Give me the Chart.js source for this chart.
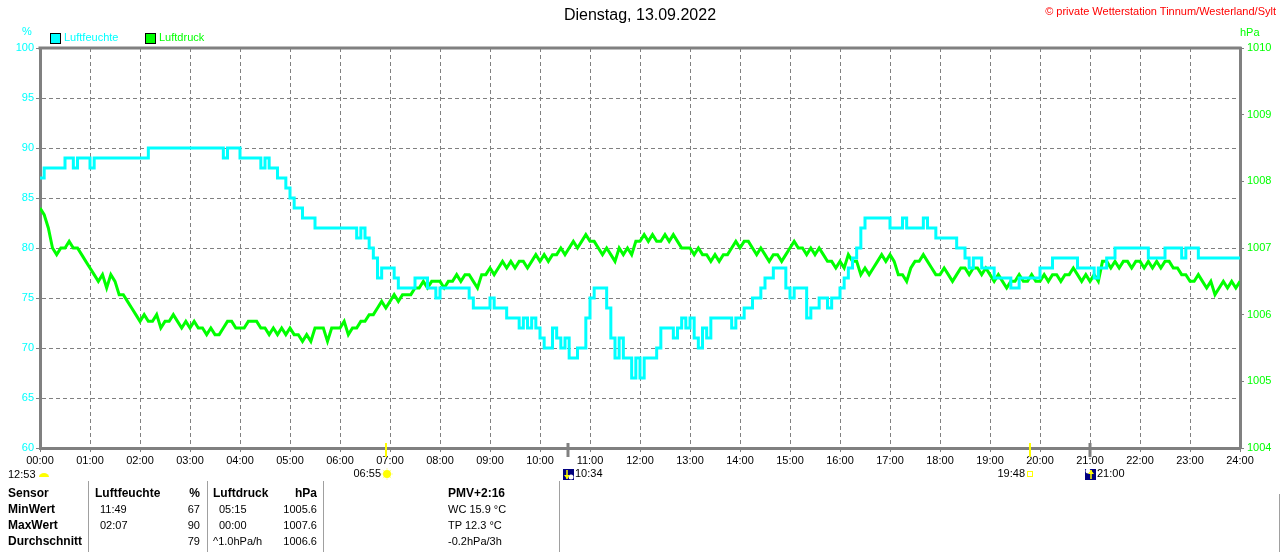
<!DOCTYPE html>
<html>
<head>
<meta charset="utf-8">
<script src="https://cdn.jsdelivr.net/npm/chart.js@4.4.0/dist/chart.umd.min.js"></script>
<style>
body { margin: 0; background: #fff; }
#wrap { position: relative; width: 1280px; height: 552px; overflow: hidden;
        font-family: "Liberation Sans", Arial, sans-serif; font-size: 11px; color: #000; }
#chart { position: absolute; left: 0; top: 0; }
.t { position: absolute; white-space: nowrap; line-height: 13px; }
.b { font-weight: bold; font-size: 12px; }
.r { text-align: right; }
.sep { position: absolute; width: 1px; background: #a0a0a0; }
.box { position: absolute; width: 9px; height: 9px; border: 1px solid #000; }
</style>
</head>
<body>
<div id="wrap">
  <canvas id="chart" width="1280" height="552"></canvas>
  <div class="t" style="right:4px; top:5px; color:#ff0000;">&copy; private Wetterstation Tinnum/Westerland/Sylt</div>
  <div class="t" style="left:22px; top:25px; color:#00ffff;">%</div>
  <div class="t" style="left:1240px; top:26px; color:#00ff00;">hPa</div>
  <div class="box" style="left:50px; top:33px; background:#00ffff;"></div>
  <div class="t" style="left:64px; top:31px; color:#00ffff;">Luftfeuchte</div>
  <div class="box" style="left:145px; top:33px; background:#00ff00;"></div>
  <div class="t" style="left:159px; top:31px; color:#00ff00;">Luftdruck</div>
  <div id="table"></div>
</div>
<script>
// 5-minute samples, 00:00 .. 24:00 (one row = one hour)
const sampleMinutes = 5;
const xTickLabels = ['00:00','01:00','02:00','03:00','04:00','05:00','06:00','07:00','08:00','09:00','10:00','11:00',
  '12:00','13:00','14:00','15:00','16:00','17:00','18:00','19:00','20:00','21:00','22:00','23:00','24:00'];

const humidity = [
  87,88,88,88,88,88,89,89,88,89,89,89,
  88,89,89,89,89,89,89,89,89,89,89,89,
  89,89,90,90,90,90,90,90,90,90,90,90,
  90,90,90,90,90,90,90,90,89,90,90,90,
  89,89,89,89,89,88,89,88,88,87,87,86,
  85,84,84,83,83,83,82,82,82,82,82,82,
  82,82,82,82,81,82,81,80,79,77,78,78,
  78,77,76,76,76,76,77,77,77,76,76,75,
  76,76,76,76,76,76,76,75,74,74,74,74,
  75,74,74,74,73,73,73,72,73,72,73,72,
  71,70,70,72,71,70,71,69,69,70,70,73,
  75,76,76,76,74,71,69,71,69,69,67,69,
  67,69,69,69,70,72,72,72,71,72,73,72,
  73,71,70,72,71,73,73,73,73,73,72,73,
  73,74,74,75,75,76,77,77,78,78,78,76,
  75,76,76,76,73,74,74,75,75,74,75,75,
  76,77,78,79,80,82,83,83,83,83,83,83,
  82,82,82,83,82,82,82,82,83,82,82,81,
  81,81,81,81,80,80,79,78,79,79,78,78,
  78,77,77,77,77,76,76,77,77,77,77,77,
  78,78,78,79,79,79,79,79,79,78,78,78,
  78,77,78,78,79,79,80,80,80,80,80,80,
  80,80,79,79,79,79,80,80,80,80,79,80,
  80,80,79,79,79,79,79,79,79,79,79,79,
  79
];

const pressure = [
  1007.6,1007.5,1007.3,1007.0,1006.9,1007.0,1007.0,1007.1,1007.0,1007.0,1006.9,1006.8,
  1006.7,1006.6,1006.5,1006.6,1006.4,1006.6,1006.5,1006.3,1006.3,1006.2,1006.1,1006.0,
  1005.9,1006.0,1005.9,1005.9,1006.0,1005.8,1005.9,1005.9,1006.0,1005.9,1005.8,1005.9,
  1005.8,1005.9,1005.8,1005.8,1005.7,1005.8,1005.7,1005.7,1005.8,1005.9,1005.9,1005.8,
  1005.8,1005.8,1005.9,1005.9,1005.9,1005.8,1005.8,1005.7,1005.8,1005.7,1005.8,1005.7,
  1005.8,1005.7,1005.7,1005.6,1005.7,1005.6,1005.8,1005.8,1005.8,1005.6,1005.8,1005.8,
  1005.8,1005.9,1005.7,1005.8,1005.8,1005.9,1005.9,1006.0,1006.0,1006.1,1006.2,1006.1,
  1006.2,1006.3,1006.2,1006.3,1006.3,1006.3,1006.4,1006.4,1006.5,1006.4,1006.5,1006.5,
  1006.5,1006.4,1006.5,1006.5,1006.6,1006.5,1006.6,1006.6,1006.5,1006.4,1006.6,1006.6,
  1006.7,1006.6,1006.7,1006.8,1006.7,1006.8,1006.7,1006.8,1006.8,1006.7,1006.8,1006.9,
  1006.8,1006.9,1006.8,1006.9,1006.9,1007.0,1006.9,1007.0,1007.1,1007.0,1007.1,1007.2,
  1007.1,1007.1,1007.0,1006.9,1007.0,1006.9,1006.8,1007.0,1006.9,1007.0,1006.9,1007.1,
  1007.1,1007.2,1007.1,1007.2,1007.1,1007.1,1007.2,1007.1,1007.2,1007.1,1007.0,1007.0,
  1007.0,1006.9,1007.0,1006.9,1006.9,1006.8,1006.9,1006.8,1006.9,1006.9,1007.0,1007.1,
  1007.0,1007.1,1007.1,1007.0,1006.9,1007.0,1006.9,1006.8,1006.9,1006.9,1006.8,1006.9,
  1007.0,1007.1,1007.0,1007.0,1006.9,1007.0,1006.9,1007.0,1006.9,1006.8,1006.8,1006.7,
  1006.8,1006.7,1006.9,1006.8,1006.8,1006.6,1006.7,1006.6,1006.7,1006.8,1006.9,1006.8,
  1006.9,1006.8,1006.6,1006.6,1006.5,1006.7,1006.8,1006.8,1006.9,1006.8,1006.7,1006.6,
  1006.6,1006.7,1006.6,1006.5,1006.6,1006.7,1006.7,1006.6,1006.7,1006.7,1006.6,1006.7,
  1006.6,1006.5,1006.6,1006.5,1006.4,1006.5,1006.5,1006.6,1006.5,1006.5,1006.6,1006.5,
  1006.5,1006.6,1006.5,1006.6,1006.6,1006.5,1006.6,1006.6,1006.7,1006.6,1006.5,1006.6,
  1006.5,1006.6,1006.5,1006.8,1006.8,1006.7,1006.8,1006.7,1006.8,1006.8,1006.7,1006.8,
  1006.8,1006.7,1006.8,1006.7,1006.8,1006.7,1006.8,1006.8,1006.7,1006.7,1006.6,1006.6,
  1006.5,1006.5,1006.6,1006.5,1006.4,1006.5,1006.3,1006.4,1006.5,1006.4,1006.5,1006.4,
  1006.5
];

// sun / moon events on the time axis (minutes after midnight)
const eventTimes  = [415, 634, 1188, 1260];
const eventLabels = ['06:55', '10:34', '19:48', '21:00'];
const eventKinds  = ['sunrise', 'moonset', 'sunset', 'moonrise'];
const dayLength = '12:53';

// summary table
const tableHead  = ['Sensor', 'Luftfeuchte', '%', 'Luftdruck', 'hPa', 'PMV+2:16'];
const rowNames   = ['MinWert', 'MaxWert', 'Durchschnitt'];
const humTimes   = ['11:49', '02:07', ''];
const humVals    = ['67', '90', '79'];
const presTimes  = ['05:15', '00:00', '^1.0hPa/h'];
const presVals   = ['1005.6', '1007.6', '1006.6'];
const extraInfo  = ['WC 15.9 °C', 'TP 12.3 °C', '-0.2hPa/3h'];

function toPoints(values) {
  return values.map(function(v, i) { return { x: i * sampleMinutes, y: v }; });
}

var frame = {
  id: 'frame',
  afterDraw: function(chart) {
    var ctx = chart.ctx, a = chart.chartArea;
    ctx.save();
    ctx.strokeStyle = '#808080';
    ctx.lineWidth = 3;
    ctx.beginPath();
    ctx.moveTo(a.left - 1.5, a.top);
    ctx.lineTo(a.right + 1.5, a.top);
    ctx.stroke();
    ctx.restore();
  }
};

function drawMoon(ctx, px, y, rising) {
  ctx.fillStyle = '#00007f';
  ctx.fillRect(px - 5, y - 5, 11, 11);
  ctx.fillStyle = '#ffffff';
  ctx.beginPath();
  if (rising) ctx.arc(px - 2, y - 3, 2.5, 0, Math.PI * 2);
  else ctx.arc(px + 3, y + 3, 2.5, 0, Math.PI * 2);
  ctx.fill();
  ctx.strokeStyle = '#ffff00';
  ctx.fillStyle = '#ffff00';
  ctx.lineWidth = 1.5;
  var ax = rising ? px + 1 : px - 1;
  ctx.beginPath();
  ctx.moveTo(ax, y - 4); ctx.lineTo(ax, y + 5);
  ctx.stroke();
  ctx.beginPath();
  if (rising) { ctx.moveTo(ax - 3, y); ctx.lineTo(ax, y - 4); ctx.lineTo(ax + 3, y); }
  else { ctx.moveTo(ax - 3, y + 1); ctx.lineTo(ax, y + 5); ctx.lineTo(ax + 3, y + 1); }
  ctx.closePath();
  ctx.fill();
}

var sunMoon = {
  id: 'sunMoon',
  afterDraw: function(chart) {
    var ctx = chart.ctx, xs = chart.scales.x, base = chart.chartArea.bottom;
    var ly = 474;
    ctx.save();
    ctx.font = '11px "Liberation Sans", Arial, sans-serif';
    ctx.textBaseline = 'middle';
    eventTimes.forEach(function(t, i) {
      var px = Math.round(xs.getPixelForValue(t));
      var kind = eventKinds[i];
      var moon = kind.indexOf('moon') === 0;
      ctx.strokeStyle = moon ? '#808080' : '#ffff00';
      ctx.lineWidth = moon ? 3 : 2;
      ctx.beginPath();
      ctx.moveTo(px, base - 5);
      ctx.lineTo(px, base + 9);
      ctx.stroke();
      ctx.fillStyle = '#000';
      if (moon) {
        drawMoon(ctx, px, ly, kind === 'moonrise');
        ctx.fillStyle = '#000';
        ctx.textAlign = 'left';
        ctx.fillText(eventLabels[i], px + 7, ly);
      } else {
        ctx.textAlign = 'right';
        ctx.fillText(eventLabels[i], px - 5, ly);
        if (kind === 'sunrise') {
          ctx.strokeStyle = '#ffff99';
          ctx.lineWidth = 1;
          for (var k = 0; k < 8; k++) {
            var an = k * Math.PI / 4;
            ctx.beginPath();
            ctx.moveTo(px + 1 + Math.cos(an) * 4, ly + Math.sin(an) * 4);
            ctx.lineTo(px + 1 + Math.cos(an) * 6, ly + Math.sin(an) * 6);
            ctx.stroke();
          }
          ctx.fillStyle = '#ffff00';
          ctx.beginPath();
          ctx.arc(px + 1, ly, 4, 0, Math.PI * 2);
          ctx.fill();
        } else {
          ctx.strokeStyle = '#ffff00';
          ctx.lineWidth = 1;
          ctx.strokeRect(px - 2.5, ly - 2.5, 5, 5);
        }
      }
    });
    // day length
    ctx.fillStyle = '#000';
    ctx.textAlign = 'left';
    ctx.fillText(dayLength, 8, ly + 1);
    ctx.fillStyle = '#ffff00';
    ctx.beginPath();
    ctx.ellipse(44, ly + 3, 5, 4, 0, Math.PI, 0);
    ctx.fill();
    ctx.restore();
  }
};

Chart.defaults.font.family = '"Liberation Sans", Arial, sans-serif';
Chart.defaults.font.size = 11;

new Chart(document.getElementById('chart'), {
  type: 'line',
  data: {
    datasets: [{
      label: 'Luftfeuchte',
      data: toPoints(humidity),
      yAxisID: 'y',
      borderColor: '#00ffff',
      backgroundColor: '#00ffff',
      borderWidth: 3,
      pointRadius: 0,
      stepped: true
    }, {
      label: 'Luftdruck',
      data: toPoints(pressure),
      yAxisID: 'y1',
      borderColor: '#00ff00',
      backgroundColor: '#00ff00',
      borderWidth: 3,
      pointRadius: 0,
      tension: 0
    }]
  },
  options: {
    responsive: false,
    animation: false,
    events: [],
    layout: { padding: 0 },
    plugins: {
      legend: { display: false },
      tooltip: { enabled: false },
      title: {
        display: true,
        text: 'Dienstag, 13.09.2022',
        color: '#000',
        font: { size: 16, weight: 'normal', lineHeight: 1.2 },
        padding: { top: 6, bottom: 22.8 }
      }
    },
    scales: {
      x: {
        type: 'linear',
        min: 0,
        max: 1440,
        afterFit: function(s) { s.height = 104; },
        ticks: {
          stepSize: 60,
          autoSkip: false,
          maxRotation: 0,
          color: '#000',
          padding: 2,
          callback: function(v) { return xTickLabels[v / 60]; }
        },
        grid: { color: '#808080', lineWidth: 1, tickLength: 4 },
        border: { color: '#808080', width: 3, dash: [4, 3] }
      },
      y: {
        position: 'left',
        min: 60,
        max: 100,
        afterFit: function(s) { s.width = 40; },
        ticks: { stepSize: 5, color: '#00ffff', padding: 2, callback: function(v) { return String(v); } },
        grid: { color: '#808080', lineWidth: 1, tickLength: 4 },
        border: { color: '#808080', width: 3, dash: [4, 3] }
      },
      y1: {
        position: 'right',
        min: 1004,
        max: 1010,
        afterFit: function(s) { s.width = 40; },
        ticks: { stepSize: 1, color: '#00ff00', padding: 3, callback: function(v) { return String(v); } },
        grid: { drawOnChartArea: false, color: '#808080', tickLength: 4 },
        border: { color: '#808080', width: 3 }
      }
    }
  },
  plugins: [frame, sunMoon]
});

// summary table below the chart
(function() {
  var tbl = document.getElementById('table');
  var rowTops = [487, 503, 519, 535];
  function cell(text, left, top, cls, right) {
    var d = document.createElement('div');
    d.className = 't ' + (cls || '');
    d.textContent = text;
    d.style.top = top + 'px';
    if (right !== undefined) { d.style.left = (right - 120) + 'px'; d.style.width = '120px'; d.classList.add('r'); }
    else d.style.left = left + 'px';
    tbl.appendChild(d);
  }
  [88, 207, 323, 559].forEach(function(x) {
    var s = document.createElement('div');
    s.className = 'sep';
    s.style.left = x + 'px'; s.style.top = '481px'; s.style.height = '71px';
    tbl.appendChild(s);
  });
  var edge = document.createElement('div');
  edge.className = 'sep';
  edge.style.left = '1279px'; edge.style.top = '494px'; edge.style.height = '58px';
  tbl.appendChild(edge);

  cell(tableHead[0], 8, rowTops[0], 'b');
  cell(tableHead[1], 95, rowTops[0], 'b');
  cell(tableHead[2], 0, rowTops[0], 'b', 200);
  cell(tableHead[3], 213, rowTops[0], 'b');
  cell(tableHead[4], 0, rowTops[0], 'b', 317);
  cell(tableHead[5], 448, rowTops[0], 'b');
  rowNames.forEach(function(name, i) {
    var top = rowTops[i + 1];
    cell(name, 8, top, 'b');
    if (humTimes[i]) cell(humTimes[i], 100, top);
    cell(humVals[i], 0, top, '', 200);
    cell(presTimes[i], presTimes[i].length > 5 ? 213 : 219, top);
    cell(presVals[i], 0, top, '', 317);
    cell(extraInfo[i], 448, top);
  });
})();
</script>
</body>
</html>
